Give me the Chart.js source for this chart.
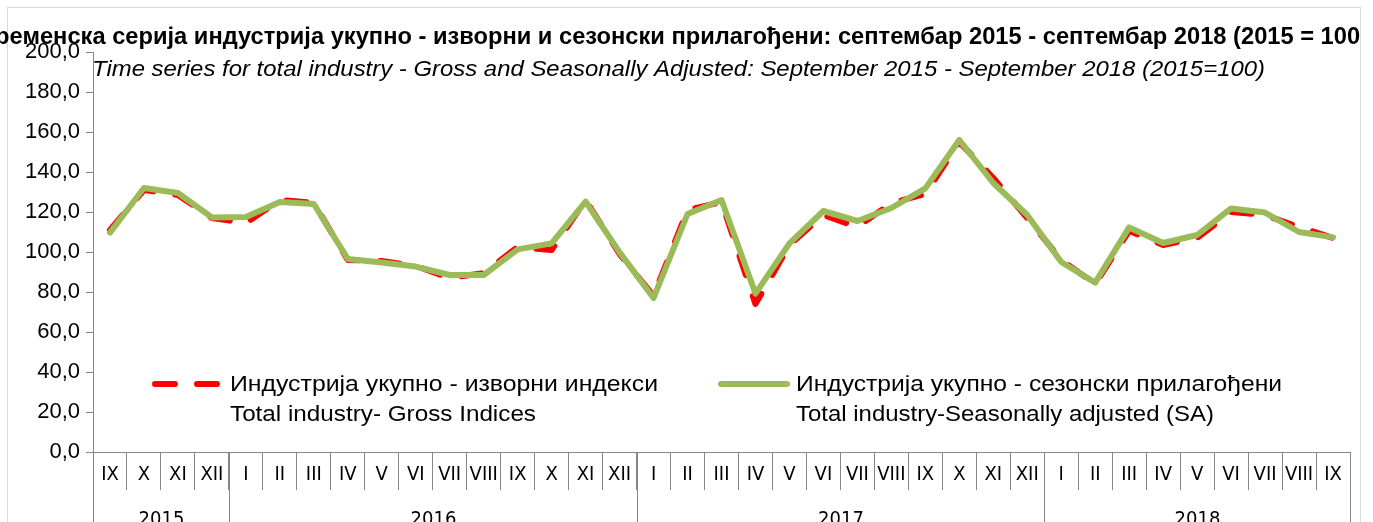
<!DOCTYPE html>
<html>
<head>
<meta charset="utf-8">
<script src="https://cdn.jsdelivr.net/npm/chart.js@4"></script>
<style>
  body { margin: 0; background: #fff; }
  canvas { display: block; }
</style>
</head>
<body>
<canvas id="myChart" width="1373" height="522"></canvas>
<script>
// --- data ---
var monthLabels = ['IX','X','XI','XII',
  'I','II','III','IV','V','VI','VII','VIII','IX','X','XI','XII',
  'I','II','III','IV','V','VI','VII','VIII','IX','X','XI','XII',
  'I','II','III','IV','V','VI','VII','VIII','IX'];
var yearLabels = ['2015','2016','2017','2018'];
var yearSpans = [4, 12, 12, 9];

var grossValues = [111, 131, 128.5, 117, 114.5, 126, 124.5, 96, 95.5, 93, 87, 89.5, 102.5, 101, 126, 99,
  78, 121, 125, 74, 103.5, 118.5, 112.5, 124.5, 129, 155, 137, 117,
  96, 84, 110.5, 103.5, 107, 120, 118.5, 112.5, 107];
var saValues = [109.7, 132, 129.5, 117.3, 117.5, 125, 124, 96.5, 94.8, 92.7, 88.5, 88.5, 101.3, 104.3, 125.2, 99.8,
  77, 119, 126, 79.2, 104.3, 120.5, 115.5, 122, 131.8, 156, 134.5, 118.5,
  95, 84.7, 112.3, 104.5, 108.5, 121.8, 119.7, 110, 107.3];

var grossLabel = ['Индустрија укупно - изворни индекси', 'Total industry- Gross Indices'];
var saLabel = ['Индустрија укупно - сезонски прилагођени', 'Total industry-Seasonally adjusted (SA)'];

var titleText = 'Временска серија индустрија укупно - изворни и сезонски прилагођени: септембар 2015 - септембар 2018 (2015 = 100)';
var subtitleText = 'Time series for total industry - Gross and Seasonally Adjusted: September 2015 - September 2018 (2015=100)';

var axisGray = '#868686';
var narrow = '"Liberation Sans Narrow", "DejaVu Sans Condensed", "Liberation Sans", sans-serif';

// text squeezed/stretched to a given width
function fitText(ctx, text, x, y, w) {
  var m = ctx.measureText(text).width;
  ctx.save();
  ctx.translate(x, y);
  ctx.scale(w / m, 1);
  ctx.fillText(text, 0, 0);
  ctx.restore();
}

var decorPlugin = {
  id: 'decor',
  beforeDraw: function(chart) {
    var ctx = chart.ctx;
    ctx.save();
    ctx.strokeStyle = '#d9d9d9';
    ctx.lineWidth = 1;
    ctx.strokeRect(7.5, 7.5, 1353, 530);
    ctx.restore();
  },
  afterDraw: function(chart) {
    var ctx = chart.ctx;
    var x = chart.scales.x;
    var area = chart.chartArea;
    var step = x.getPixelForValue(1) - x.getPixelForValue(0);

    // titles
    ctx.save();
    ctx.beginPath();
    ctx.rect(0, 0, 1360, 522);
    ctx.clip();
    ctx.fillStyle = '#000';
    ctx.textBaseline = 'middle';
    ctx.font = 'bold 23px "Liberation Sans", sans-serif';
    fitText(ctx, titleText, -22, 38, 1390);
    ctx.font = 'italic 22px "Liberation Sans", sans-serif';
    fitText(ctx, subtitleText, 92, 70, 1173);
    ctx.restore();

    // year separators and labels
    ctx.save();
    ctx.strokeStyle = axisGray;
    ctx.lineWidth = 1;
    ctx.fillStyle = '#000';
    ctx.font = '20px ' + narrow;
    ctx.textAlign = 'center';
    ctx.textBaseline = 'top';
    var start = 0;
    for (var i = 0; i < yearLabels.length; i++) {
      var left = Math.round(x.getPixelForValue(start) - step / 2) + 0.5;
      var right = Math.round(x.getPixelForValue(start + yearSpans[i] - 1) + step / 2) + 0.5;
      ctx.beginPath();
      ctx.moveTo(left, area.bottom);
      ctx.lineTo(left, 522);
      ctx.moveTo(right, area.bottom);
      ctx.lineTo(right, 522);
      ctx.stroke();
      ctx.fillText(yearLabels[i], (left + right) / 2, 510);
      start += yearSpans[i];
    }
    ctx.restore();

    // legend
    var spots = [{x0: 155, x1: 219, tx: 230, w: [428, 306]}, {x0: 721, x1: 787, tx: 796, w: [486, 418]}];
    ctx.save();
    chart.data.datasets.forEach(function(ds, k) {
      var s = spots[k];
      ctx.beginPath();
      ctx.strokeStyle = ds.borderColor;
      ctx.lineWidth = ds.borderWidth;
      ctx.lineCap = 'round';
      ctx.setLineDash(ds.borderDash || []);
      ctx.moveTo(s.x0, 384);
      ctx.lineTo(s.x1, 384);
      ctx.stroke();
      ctx.setLineDash([]);
      ctx.fillStyle = '#000';
      ctx.font = '22px "Liberation Sans", sans-serif';
      ctx.textBaseline = 'middle';
      ds.label.split('\n').forEach(function(line, j) {
        fitText(ctx, line, s.tx, 385 + j * 30, s.w[j]);
      });
    });
    ctx.restore();
  }
};

var config = {
  type: 'line',
  data: {
    labels: monthLabels,
    datasets: [{
      label: grossLabel.join('\n'),
      data: grossValues,
      borderColor: '#ff0000',
      borderWidth: 6,
      borderDash: [20, 22],
      borderCapStyle: 'round',
      borderJoinStyle: 'round',
      pointRadius: 0,
      tension: 0,
      order: 2
    }, {
      label: saLabel.join('\n'),
      data: saValues,
      borderColor: '#9bbb59',
      borderWidth: 6,
      borderCapStyle: 'round',
      borderJoinStyle: 'round',
      pointRadius: 0,
      tension: 0,
      order: 1
    }]
  },
  options: {
    responsive: false,
    animation: false,
    layout: { padding: { top: 52, right: 23, left: 0, bottom: 0 } },
    plugins: {
      legend: { display: false },
      title: { display: false },
      tooltip: { enabled: false }
    },
    scales: {
      x: {
        type: 'category',
        offset: true,
        afterFit: function(s) { s.height = 70; },
        grid: {
          offset: true,
          drawOnChartArea: false,
          tickLength: 38,
          color: axisGray,
          lineWidth: 1
        },
        border: { color: axisGray, width: 1 },
        ticks: {
          autoSkip: false,
          maxRotation: 0,
          padding: -27,
          color: '#000',
          font: { size: 20, family: narrow }
        }
      },
      y: {
        min: 0,
        max: 200,
        afterFit: function(s) { s.width = 93; },
        grid: {
          drawOnChartArea: false,
          tickLength: 7,
          color: axisGray
        },
        border: { color: axisGray, width: 1 },
        ticks: {
          stepSize: 20,
          padding: 6,
          color: '#000',
          font: { size: 22, family: '"Liberation Sans", sans-serif' },
          callback: function(v) { return v.toFixed(1).replace('.', ','); }
        }
      }
    }
  },
  plugins: [decorPlugin]
};

var ctx = document.getElementById('myChart').getContext('2d');
var myChart = new Chart(ctx, config);
</script>
</body>
</html>
